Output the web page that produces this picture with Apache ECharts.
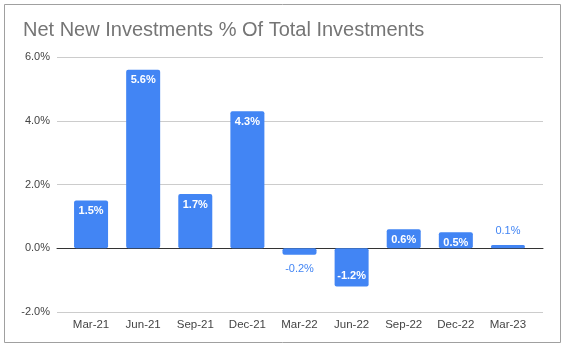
<!DOCTYPE html>
<html>
<head>
<meta charset="utf-8">
<script src="https://cdn.jsdelivr.net/npm/echarts@6/dist/echarts.min.js"></script>
<style>
  html, body { margin: 0; padding: 0; background: #fff; }
  #chart { width: 562px; height: 352px; }
</style>
</head>
<body>
<div id="chart"></div>
<script>
const categories = ['Mar-21', 'Jun-21', 'Sep-21', 'Dec-21', 'Mar-22', 'Jun-22', 'Sep-22', 'Dec-22', 'Mar-23'];
const netNewPct = [1.5, 5.6, 1.7, 4.3, -0.2, -1.2, 0.6, 0.5, 0.1];
const yTicks = [-2, 0, 2, 4, 6];

const BLUE = '#4285f4';
const fontFamily = '"Liberation Sans", Arial, sans-serif';

const chart = echarts.init(document.getElementById('chart'), null, { renderer: 'canvas' });

// small bars get their label outside, in blue
const labelFor = (v) => {
  if (Math.abs(v) < 0.4) {
    return {
      show: true,
      position: v < 0 ? 'bottom' : 'top',
      distance: 9,
      color: BLUE,
      fontWeight: 'normal'
    };
  }
  return {
    show: true,
    position: v < 0 ? 'insideBottom' : 'insideTop',
    distance: 5,
    color: '#fff',
    fontWeight: 'bold'
  };
};

const option = {
  backgroundColor: '#fff',
  animation: false,
  title: {
    text: 'Net New Investments % Of Total Investments',
    left: 18,
    top: 15,
    textStyle: { color: '#757575', fontSize: 20, fontWeight: 'normal', fontFamily }
  },
  graphic: [{
    type: 'rect',
    shape: { x: 4.5, y: 4.5, width: 556, height: 338 },
    style: { fill: 'none', stroke: '#a0a0a0', lineWidth: 1 },
    silent: true
  }],
  grid: [
    // grid 0: gridlines + y labels, full width
    { left: 57, right: 19, top: 57, bottom: 40 },
    // grid 1: the bars, slightly inset like the original
    { left: 65, right: 28, top: 57, bottom: 40 }
  ],
  xAxis: [
    {
      gridIndex: 0,
      type: 'category',
      data: categories,
      axisLine: { show: true, onZero: true, lineStyle: { color: '#333', width: 1 } },
      axisTick: { show: false },
      axisLabel: { show: false },
      splitLine: { show: false }
    },
    {
      gridIndex: 1,
      type: 'category',
      data: categories,
      position: 'bottom',
      axisLine: { show: false, onZero: false },
      axisTick: { show: false },
      axisLabel: { color: '#444', fontSize: 11.5, fontFamily, margin: 7 }
    }
  ],
  yAxis: [
    {
      gridIndex: 0,
      type: 'value',
      min: yTicks[0],
      max: yTicks[yTicks.length - 1],
      interval: 2,
      axisLine: { show: false },
      axisTick: { show: false },
      axisLabel: {
        color: '#444',
        fontSize: 11,
        fontFamily,
        margin: 7,
        formatter: (v) => v.toFixed(1) + '%'
      },
      splitLine: { lineStyle: { color: '#ccc', width: 1 } }
    },
    {
      gridIndex: 1,
      type: 'value',
      min: yTicks[0],
      max: yTicks[yTicks.length - 1],
      interval: 2,
      show: false
    }
  ],
  series: [{
    type: 'bar',
    xAxisIndex: 1,
    yAxisIndex: 1,
    barWidth: 34,
    itemStyle: { color: BLUE, borderRadius: 2 },
    label: { fontSize: 11, fontFamily, formatter: (p) => p.value.toFixed(1) + '%' },
    data: netNewPct.map(v => ({ value: v, label: labelFor(v) }))
  }]
};

chart.setOption(option);
</script>
</body>
</html>
